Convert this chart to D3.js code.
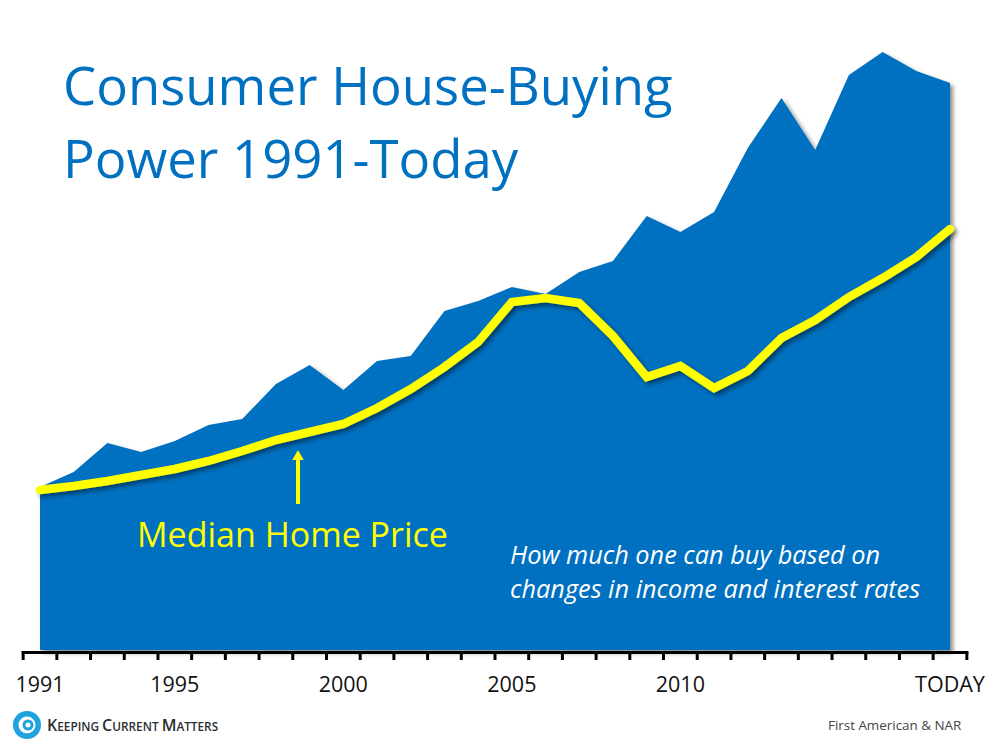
<!DOCTYPE html>
<html><head><meta charset="utf-8">
<script src="https://cdn.jsdelivr.net/npm/d3@7/dist/d3.min.js"></script>
<style>html,body{margin:0;padding:0;background:#fff}svg{display:block}text{font-family:"Open Sans","Noto Sans",sans-serif}</style>
</head><body><svg id="c" width="1000" height="750"></svg>
<script>
const years = d3.range(1991, 2019);
const buyingPower = [163,178,207,198,209,225,231,266,285,260,289,294,339,349,363,356,378,389,434,418,438,502,552,500,575,598,579,567];
const medianPrice = [160,164,169,175,181,189,199,210,218,226,242,261,283,308,348,352,347,314,273,284,262,279,312,330,353,372,393,421];
const tickLabels = [[1991,"1991"],[1995,"1995"],[2000,"2000"],[2005,"2005"],[2010,"2010"],[2018,"TODAY"]];

const svg = d3.select("#c");
const x = d3.scaleLinear().domain([1991, 2018]).range([40, 950]);
const y = d3.scaleLinear().domain([0, 600]).range([650, 50]);
const blue = "#0070c0", yellow = "#ffff00";

const defs = svg.append("defs");
const shadow = defs.append("filter").attr("id","shadow").attr("x","-5%").attr("y","-5%").attr("width","110%").attr("height","110%");
shadow.append("feDropShadow").attr("dx",3).attr("dy",3).attr("stdDeviation",2).attr("flood-color","#000").attr("flood-opacity",0.45);

// area
svg.append("path").datum(years.map((d,i)=>[d,buyingPower[i]]))
  .attr("d", d3.area().x(d=>x(d[0])).y0(y(0)).y1(d=>y(d[1])))
  .attr("fill", blue).attr("filter","url(#shadow)");

// axis
const axisG = svg.append("g");
const tickYears = d3.range(1990.5, 2019);
axisG.append("line").attr("x1",x(1990.5)-1.5).attr("x2",x(2018.5)+1.5).attr("y1",652.5).attr("y2",652.5)
  .attr("stroke","#000").attr("stroke-width",3);
axisG.selectAll("line.t").data(tickYears).join("line").attr("class","t")
  .attr("x1",d=>x(d)).attr("x2",d=>x(d)).attr("y1",652).attr("y2",660)
  .attr("stroke","#000").attr("stroke-width",3);
axisG.selectAll("text").data(tickLabels).join("text")
  .attr("x",d=>x(d[0])).attr("y",692).attr("text-anchor","middle")
  .attr("font-size",21.5).attr("fill","#111").text(d=>d[1]);

// median line
svg.append("path").datum(years.map((d,i)=>[d,medianPrice[i]]))
  .attr("d", d3.line().x(d=>x(d[0])).y(d=>y(d[1])))
  .attr("fill","none").attr("stroke",yellow).attr("stroke-width",8.5)
  .attr("stroke-linecap","round").attr("stroke-linejoin","miter").attr("filter","url(#shadow)");

// title
const title = svg.append("g").attr("fill",blue).attr("font-size",52.7);
title.append("text").attr("x",63).attr("y",105).text("Consumer House-Buying");
title.append("text").attr("x",63).attr("y",178).text("Power 1991-Today");

// annotation
svg.append("line").attr("x1",298).attr("x2",298).attr("y1",504).attr("y2",460).attr("stroke",yellow).attr("stroke-width",4);
svg.append("path").attr("d",d3.symbol(d3.symbolTriangle,58)()).attr("transform","translate(298,456.6)").attr("fill",yellow);
svg.append("text").attr("x",137).attr("y",547).attr("font-size",34).attr("fill",yellow).text("Median Home Price");
const note = svg.append("g").attr("fill","#fff").attr("font-size",25.3).attr("font-style","italic");
note.append("text").attr("x",510).attr("y",564).text("How much one can buy based on");
note.append("text").attr("x",510).attr("y",598).text("changes in income and interest rates");

// footer
svg.append("text").attr("x",828).attr("y",730).attr("font-size",13.4).attr("fill","#444").text("First American & NAR");
const logo = svg.append("g").attr("transform","translate(27,725)");
logo.append("circle").attr("r",14).attr("fill","#1fa3dc");
logo.append("circle").attr("r",8.5).attr("fill","#fff");
logo.append("circle").attr("r",5.5).attr("fill","#1fa3dc").attr("cx",1);
logo.append("circle").attr("r",2.5).attr("fill","#fff").attr("cx",1);
const brand = svg.append("text").attr("x",47).attr("y",731).attr("fill","#2b2f33").attr("font-weight",600);
[["K",16],["EEPING ",11.8],["C",16],["URRENT ",11.8],["M",16],["ATTERS",11.8]].forEach(([t,s])=>brand.append("tspan").attr("font-size",s).text(t));
</script></body></html>
